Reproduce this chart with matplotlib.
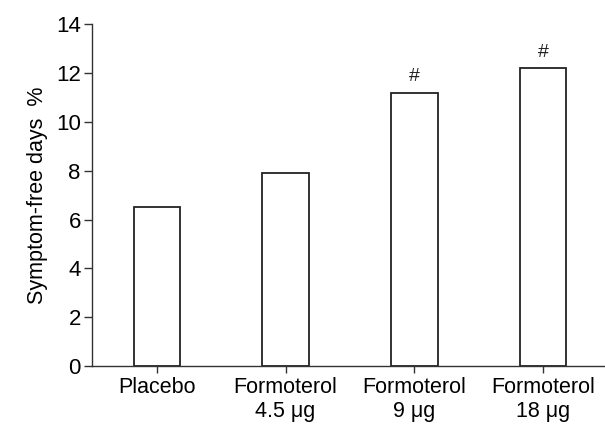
import matplotlib
matplotlib.use("Agg")
import matplotlib.pyplot as plt

# values
categories = ["Placebo", "Formoterol\n4.5 \u03bcg", "Formoterol\n9 \u03bcg", "Formoterol\n18 \u03bcg"]
symptom_free_pct = [6.5, 7.9, 11.2, 12.2]
significant = [False, False, True, True]
y_ticks = [0, 2, 4, 6, 8, 10, 12, 14]

plt.rcParams["font.family"] = ["Liberation Sans", "DejaVu Sans"]

fig = plt.figure(figsize=(6.05, 4.26), dpi=100)
ax = fig.add_axes([0.152, 0.1408, 0.848, 0.8017])

x = list(range(len(categories)))
ax.bar(x, symptom_free_pct, width=0.36, color="white", edgecolor="#222222", linewidth=1.3)

for xi, val, sig in zip(x, symptom_free_pct, significant):
    if sig:
        ax.text(xi, val + 0.3, "#", ha="center", va="bottom", fontsize=14, color="#222222")

ax.set_xlim(-0.503, 3.48)
ax.set_ylim(0, 14)
ax.set_yticks(y_ticks)
ax.set_xticks(x)
ax.set_xticklabels(categories, fontsize=15.5, linespacing=1.2)
ax.tick_params(axis="y", labelsize=16, length=6, width=1, color="#333333", pad=2)
ax.tick_params(axis="x", length=5, width=1, color="#333333", pad=3)
ax.set_ylabel("Symptom-free days  %", fontsize=15.5, labelpad=6)

for side in ["top", "right"]:
    ax.spines[side].set_visible(False)
for side in ["left", "bottom"]:
    ax.spines[side].set_color("#333333")
    ax.spines[side].set_linewidth(1)

fig.savefig("out.png", dpi=100)
